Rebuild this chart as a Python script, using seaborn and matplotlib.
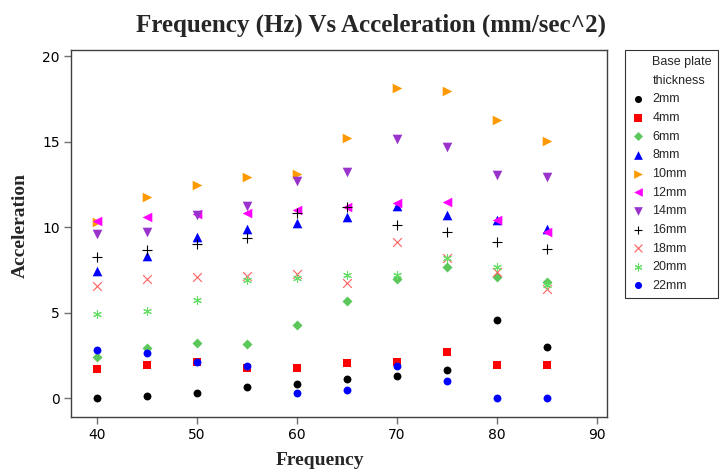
import matplotlib
matplotlib.use("Agg")
import matplotlib.pyplot as plt
from matplotlib.lines import Line2D
import seaborn as sns
import pandas as pd

freq = [40, 45, 50, 55, 60, 65, 70, 75, 80, 85]
thickness = ["2mm", "4mm", "6mm", "8mm", "10mm", "12mm", "14mm", "16mm", "18mm", "20mm", "22mm"]
acc_2mm = [0.0, 0.13, 0.3, 0.64, 0.85, 1.1, 1.32, 1.64, 4.57, 3.0]
acc_4mm = [1.71, 1.93, 2.12, 1.79, 1.74, 2.03, 2.1, 2.71, 1.93, 1.93]
acc_6mm = [2.38, 2.96, 3.2, 3.16, 4.28, 5.7, 6.95, 7.65, 7.11, 6.8]
acc_8mm = [7.44, 8.3, 9.43, 9.86, 10.23, 10.59, 11.25, 10.7, 10.39, 9.9]
acc_10mm = [10.3, 11.73, 12.48, 12.93, 13.12, 15.2, 18.15, 17.94, 16.25, 15.06]
acc_12mm = [10.37, 10.57, 10.76, 10.84, 10.97, 11.15, 11.4, 11.44, 10.42, 9.74]
acc_14mm = [9.59, 9.69, 10.68, 11.23, 12.7, 13.22, 15.15, 14.66, 13.06, 12.93]
acc_16mm = [8.26, 8.69, 9.04, 9.37, 10.82, 11.2, 10.12, 9.72, 9.14, 8.71]
acc_18mm = [6.57, 6.94, 7.08, 7.13, 7.26, 6.76, 9.14, 8.18, 7.4, 6.37]
acc_20mm = [4.91, 5.1, 5.71, 6.9, 7.05, 7.2, 7.19, 8.18, 7.66, 6.6]
acc_22mm = [2.8, 2.65, 2.09, 1.91, 0.33, 0.47, 1.91, 1.0, 0.0, 0.0]
series = [acc_2mm, acc_4mm, acc_6mm, acc_8mm, acc_10mm, acc_12mm, acc_14mm,
          acc_16mm, acc_18mm, acc_20mm, acc_22mm]

colors = ["#000000", "#FF0000", "#5CC85C", "#0000FF", "#FF9900", "#FF00FF",
          "#9933CC", "#000000", "#FF6060", "#66DD66", "#0000FF"]
markers = ["o", "s", "D", "^", ">", "<", "v", "+", "x", (6, 2, 0), "o"]
sizes = [32, 32, 26, 48, 48, 48, 48, 45, 40, 32, 32]

sns.set_theme(style="white")
plt.rcParams["font.family"] = ["DejaVu Sans"]

fig = plt.figure(figsize=(7.2, 4.75), dpi=100)
ax = fig.add_axes([0.0986, 0.1221, 0.7444, 0.7726])

for lab, vals, c, m, s in zip(thickness, series, colors, markers, sizes):
    df = pd.DataFrame({"Frequency": freq, "Acceleration": vals})
    filled = m not in ("+", "x") and not isinstance(m, tuple)
    sns.scatterplot(data=df, x="Frequency", y="Acceleration", ax=ax,
                    marker=m, color=c, s=s, linewidth=0 if filled else 0.8,
                    label=lab, zorder=3)

ax.set_xlim(37.4, 91)
ax.set_ylim(-1.1, 20.35)
ax.set_xticks([40, 50, 60, 70, 80, 90])
ax.set_yticks([0, 5, 10, 15, 20])
ax.tick_params(axis="both", which="major", direction="out", length=5, width=1,
               color="#707070", labelsize=10, labelcolor="black", bottom=True, left=True,
               pad=3)
for sp in ax.spines.values():
    sp.set_color("#404040")
    sp.set_linewidth(1.0)

serif = ["Liberation Serif", "DejaVu Serif"]
ax.set_xlabel("Frequency", fontsize=14, fontweight="bold", family=serif)
ax.set_ylabel("Acceleration", fontsize=14, fontweight="bold", family=serif)
ax.xaxis.set_label_coords(0.4646, -0.096)
ax.yaxis.set_label_coords(-0.079, 0.523)
fig.text(0.515, 1 - 32 / 475, "Frequency (Hz) Vs Acceleration (mm/sec^2)", ha="center",
         va="baseline", fontsize=18, fontweight="bold", family=serif)

handles, labels = ax.get_legend_handles_labels()
if ax.get_legend():
    ax.get_legend().remove()
blank = Line2D([], [], linestyle="", marker="")
handles = [blank, blank] + handles
labels = ["Base plate", "thickness"] + labels
leg = fig.legend(handles, labels, loc="upper left", bbox_to_anchor=(625 / 720, 1 - 50 / 475),
                 borderaxespad=0, frameon=True, fancybox=False,
                 prop={"family": ["Liberation Sans"], "size": 9}, handletextpad=0.7,
                 handlelength=1.0, labelspacing=0.53, borderpad=0.5, markerscale=0.9)
leg.get_frame().set_edgecolor("black")
leg.get_frame().set_linewidth(0.8)

fig.savefig("out.png", dpi=100)
